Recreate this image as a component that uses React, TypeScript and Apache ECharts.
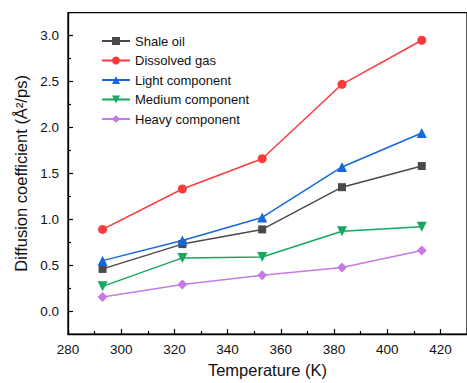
import React, { useEffect, useRef } from "react";
import * as echarts from "echarts";

const temperatures = [293, 323, 353, 383, 413];
const shaleOil = [0.46, 0.73, 0.89, 1.35, 1.58];
const dissolvedGas = [0.89, 1.33, 1.66, 2.47, 2.95];
const lightComponent = [0.55, 0.77, 1.02, 1.57, 1.94];
const mediumComponent = [0.27, 0.58, 0.59, 0.87, 0.92];
const heavyComponent = [0.155, 0.29, 0.39, 0.475, 0.66];

const xMajorTicks = [280, 300, 320, 340, 360, 380, 400, 420];
const xMinorTicks = [290, 310, 330, 350, 370, 390, 410];
const yMajorTicks = [0, 0.5, 1.0, 1.5, 2.0, 2.5, 3.0];
const yMinorTicks = [0.25, 0.75, 1.25, 1.75, 2.25, 2.75];

const FONT = "Liberation Sans, Arial, sans-serif";

export default function App() {
  const ref = useRef<HTMLDivElement>(null);
  useEffect(() => {
    if (!ref.current) return;
    const chart = echarts.init(ref.current, null, { renderer: "svg" });
    const mk = (name: string, data: number[], color: string, symbol: string, size: number, rotate = 0) => ({
      name,
      type: "line",
      data: temperatures.map((t, i) => [t, data[i]]),
      symbol,
      symbolSize: size,
      symbolRotate: rotate,
      lineStyle: { color, width: 1.5 },
      itemStyle: { color },
      xAxisIndex: 0,
      yAxisIndex: 0,
      z: 3,
    });
    const xBase = { type: "value", min: 280, max: 430, position: "bottom" };
    const yBase = { type: "value", min: -0.25, max: 3.25, position: "left" };
    chart.setOption({
      animation: false,
      textStyle: { fontFamily: FONT },
      grid: {
        left: 68,
        top: 12.7,
        bottom: 46.3,
        right: -3.4,
        show: true,
        borderColor: "#000",
        borderWidth: 1.3,
        backgroundColor: "transparent",
      },
      legend: {
        orient: "vertical",
        left: 96,
        top: 29,
        itemWidth: 28,
        itemHeight: 10,
        itemGap: 5.5,
        textStyle: { fontSize: 13, color: "#111", fontFamily: FONT, lineHeight: 14 },
        data: ["Shale oil", "Dissolved gas", "Light component", "Medium component", "Heavy component"],
      },
      xAxis: [
        {
          ...xBase,
          name: "Temperature (K)",
          nameLocation: "middle",
          nameGap: 23,
          nameTextStyle: { fontSize: 16.5, color: "#111", fontFamily: FONT },
          axisLine: { onZero: false, lineStyle: { color: "#000", width: 1.3 } },
          axisTick: { inside: true, length: 5, customValues: xMajorTicks, lineStyle: { color: "#000", width: 1.2 } },
          axisLabel: { customValues: xMajorTicks, fontSize: 13.5, color: "#111", margin: 8, fontFamily: FONT },
          splitLine: { show: false },
        },
        {
          ...xBase,
          axisLine: { show: false, onZero: false },
          axisTick: { inside: true, length: 3, customValues: xMinorTicks, lineStyle: { color: "#000", width: 1.2 } },
          axisLabel: { show: false },
          splitLine: { show: false },
        },
      ],
      yAxis: [
        {
          ...yBase,
          name: "Diffusion coefficient (Å²/ps)",
          nameLocation: "middle",
          nameGap: 34,
          nameTextStyle: { fontSize: 16.5, color: "#111", fontFamily: FONT },
          axisLine: { show: true, onZero: false, lineStyle: { color: "#000", width: 1.3 } },
          axisTick: { show: true, inside: true, length: 5, customValues: yMajorTicks, lineStyle: { color: "#000", width: 1.2 } },
          axisLabel: {
            customValues: yMajorTicks,
            fontSize: 13.5,
            color: "#111",
            margin: 9,
            fontFamily: FONT,
            formatter: (v: number) => v.toFixed(1),
          },
          splitLine: { show: false },
        },
        {
          ...yBase,
          axisLine: { show: false, onZero: false },
          axisTick: { show: true, inside: true, length: 3, customValues: yMinorTicks, lineStyle: { color: "#000", width: 1.2 } },
          axisLabel: { show: false },
          splitLine: { show: false },
        },
      ],
      series: [
        mk("Shale oil", shaleOil, "#4a4a4a", "rect", 8),
        mk("Dissolved gas", dissolvedGas, "#fb3a3a", "circle", 9),
        mk("Light component", lightComponent, "#1469e0", "triangle", 10),
        mk("Medium component", mediumComponent, "#15a85e", "triangle", 10, 180),
        mk("Heavy component", heavyComponent, "#c57be6", "diamond", 10),
      ],
    });
    return () => chart.dispose();
  }, []);
  return (
    <div
      ref={ref}
      style={{ position: "absolute", left: 0, top: 0, width: 467, height: 383, background: "#fff" }}
    />
  );
}
